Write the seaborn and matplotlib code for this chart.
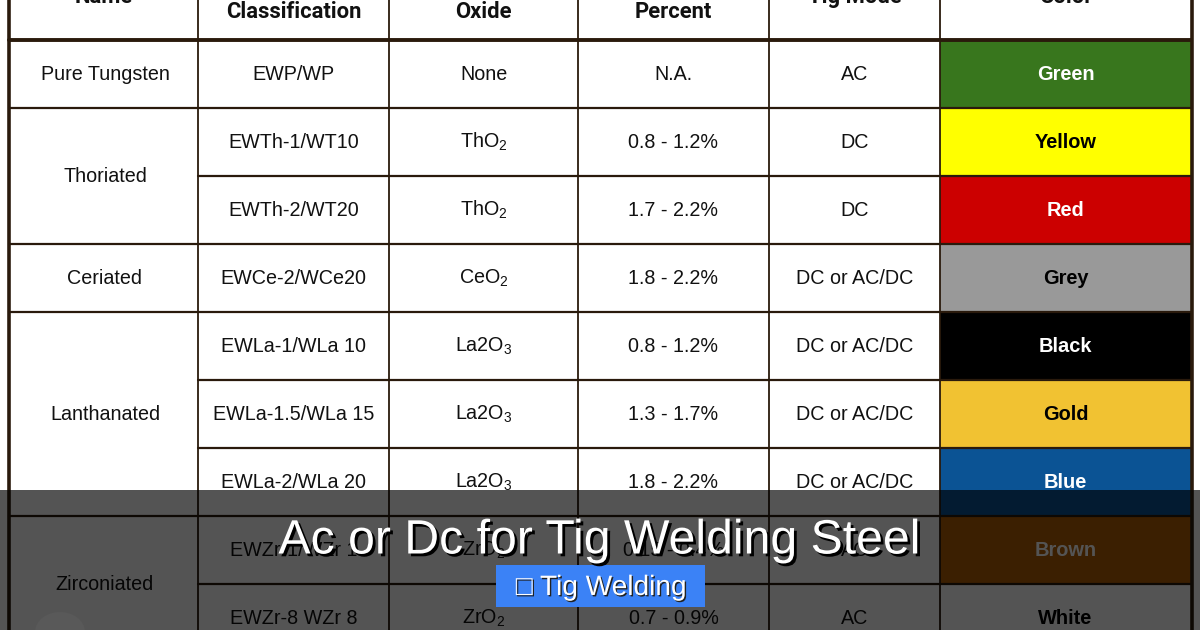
import numpy as np
import matplotlib
matplotlib.use("Agg")
import matplotlib.pyplot as plt
from matplotlib.colors import ListedColormap
from matplotlib.patches import Rectangle, Ellipse
import matplotlib.patheffects as pe
import seaborn as sns

sns.set_theme(style="white")
plt.rcParams['font.family'] = ['Liberation Sans', 'DejaVu Sans']
plt.rcParams['mathtext.fontset'] = 'custom'
plt.rcParams['mathtext.rm'] = 'Liberation Sans'
plt.rcParams['mathtext.default'] = 'regular'

# ---- data ----
headers = ["Name", "Classification", "Oxide", "Percent", "Tig Mode", "Color"]
names = [("Pure Tungsten", 0, 1), ("Thoriated", 1, 2), ("Ceriated", 3, 1),
         ("Lanthanated", 4, 3), ("Zirconiated", 7, 2)]
classifications = ["EWP/WP", "EWTh-1/WT10", "EWTh-2/WT20", "EWCe-2/WCe20", "EWLa-1/WLa 10",
                   "EWLa-1.5/WLa 15", "EWLa-2/WLa 20", "EWZr-1/WZr 1", "EWZr-8 WZr 8"]
oxides = ["None", "ThO$_2$", "ThO$_2$", "CeO$_2$", "La2O$_3$", "La2O$_3$", "La2O$_3$", "ZrO$_2$", "ZrO$_2$"]
percents = ["N.A.", "0.8 - 1.2%", "1.7 - 2.2%", "1.8 - 2.2%", "0.8 - 1.2%",
            "1.3 - 1.7%", "1.8 - 2.2%", "0.15 - 0.4%", "0.7 - 0.9%"]
modes = ["AC", "DC", "DC", "DC or AC/DC", "DC or AC/DC", "DC or AC/DC", "DC or AC/DC", "AC", "AC"]
color_names = ["Green", "Yellow", "Red", "Grey", "Black", "Gold", "Blue", "Brown", "White"]
color_hex = ["#38761d", "#ffff00", "#cc0000", "#999999", "#000000",
             "#f1c232", "#0b5394", "#b45f06", "#ffffff"]
label_colors = ["white", "black", "white", "black", "white", "black", "white", "white", "black"]
title = "Ac or Dc for Tig Welding Steel"
badge = "\u25a1 Tig Welding"

# ---- layout in pixels ----
W, H = 1200, 630
col_edges = [9, 198, 389, 578, 769, 940, 1191]
header_top, pitch, header_bottom = -28, 68, 40
row_edges = [header_bottom + i * pitch for i in range(10)]
line = "#2a1a0c"

fig = plt.figure(figsize=(W / 100, H / 100), dpi=100, facecolor="white")
ax = fig.add_axes([0, 0, 1, 1], zorder=1)
ax.set_xlim(0, W)
ax.set_ylim(H, 0)
ax.axis("off")
ax.patch.set_alpha(0)

# colour column as a one-column seaborn heatmap
ax_c = fig.add_axes([col_edges[5] / W, 1 - row_edges[-1] / H,
                     (col_edges[6] - col_edges[5]) / W, (row_edges[-1] - row_edges[0]) / H], zorder=0)
sns.heatmap(np.arange(len(color_hex)).reshape(-1, 1), ax=ax_c, cmap=ListedColormap(color_hex), cbar=False,
            annot=np.array(color_names).reshape(-1, 1), fmt="", xticklabels=False, yticklabels=False,
            annot_kws={"fontsize": 14.4, "fontweight": "bold"})
for t, c in zip(ax_c.texts, label_colors):
    t.set_color(c)

def mid(i):
    return row_edges[i] + pitch / 2

def xmid(j):
    return (col_edges[j] + col_edges[j + 1]) / 2

# grid
for j in range(1, 6):
    ax.plot([col_edges[j]] * 2, [-5, 640], color=line, lw=1.3, zorder=3)
for i, y in enumerate(row_edges):
    if i == 0:
        ax.plot([col_edges[0], col_edges[-1]], [y, y], color=line, lw=2.8, zorder=3)
    else:
        starts = {n[1] + n[2] for n in names}
        x0 = col_edges[0] if i in starts else col_edges[1]
        ax.plot([x0, col_edges[-1]], [y, y], color=line, lw=1.6, zorder=3)
for x in (col_edges[0], col_edges[-1] + 1):
    ax.plot([x, x], [-5, 640], color=line, lw=2.6, zorder=3)

# header
header_y = [-3, 12, 12, 12, -3, -3]
for j, (h, y) in enumerate(zip(headers, header_y)):
    ax.text(xmid(j), y, h, ha="center", va="center", fontsize=15.8, fontweight="bold",
            family=["Roboto", "DejaVu Sans"], color="#111111")

# body
for n, start, span in names:
    ax.text(xmid(0) + 1.5, row_edges[start] + span * pitch / 2, n, ha="center", va="center",
            fontsize=14.2, color="#111111")
for j, values in enumerate([classifications, oxides, percents, modes], start=1):
    for i, v in enumerate(values):
        ax.text(xmid(j), mid(i), v, ha="center", va="center", fontsize=14.2, color="#111111")

# overlay
ax.add_patch(Rectangle((0, 490), W, H - 490, facecolor="black", alpha=0.67, lw=0, zorder=5))
ax.add_patch(Ellipse((60, 632), 50, 40, facecolor="#595959", lw=0, zorder=6))
ax.text(W / 2 - 1, 541, title, ha="center", va="center", fontsize=34.7, color="white", zorder=8,
        path_effects=[pe.withSimplePatchShadow(offset=(2, -2), shadow_rgbFace="black", alpha=1)])
ax.add_patch(Rectangle((496, 565), 209, 42, facecolor="#3b82f6", lw=0, zorder=7))
ax.text(601, 588, badge, ha="center", va="center", fontsize=20.2, color="white", zorder=8,
        path_effects=[pe.withSimplePatchShadow(offset=(1, -1), shadow_rgbFace="#222222", alpha=1)])

fig.savefig("out.png", dpi=100)
